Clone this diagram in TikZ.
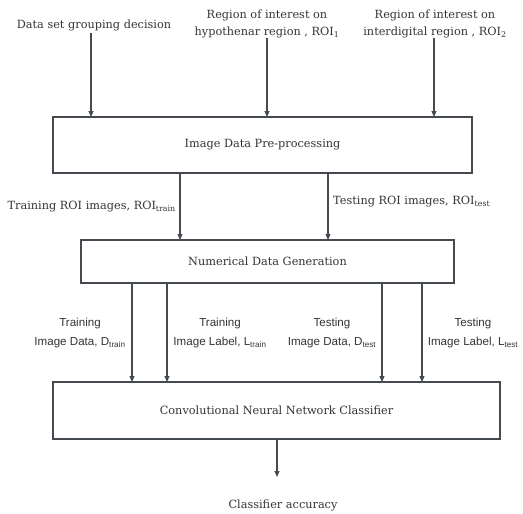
\documentclass[tikz,border=0pt]{standalone}
\usepackage{fontspec}
\setmainfont{DejaVu Serif}
\newfontfamily\labfont{Liberation Sans}
\usetikzlibrary{arrows.meta}
\definecolor{ln}{HTML}{454A50}
\definecolor{tx}{HTML}{333333}
\newcommand{\lowsub}[1]{\textsubscript{#1}}
\begin{document}
\begin{tikzpicture}[x=1pt,y=-1pt,
  procbox/.style={draw=ln,line width=1.3pt,fill=white},
  flow/.style={draw=ln,line width=1.1pt,-{Triangle[length=6pt,width=5pt]}},
  serift/.style={font=\fontsize{11.3}{17}\selectfont,text=tx,align=center,inner sep=0pt},
  sanst/.style={font=\labfont\fontsize{11.6}{18.5}\selectfont,text=tx,align=center,inner sep=0pt}]
\useasboundingbox (0,0) rectangle (523,514);
% boxes
\draw[procbox] (53,117) rectangle (472,173);
\node[serift] (b1) at (262.5,145) {Image Data Pre-processing};
\draw[procbox] (81,240) rectangle (454,283);
\node[serift] (b2) at (267.5,261.5) {Numerical Data Generation};
\draw[procbox] (53,382) rectangle (500,439);
\node[serift] (b3) at (276.5,410.5) {Convolutional Neural Network Classifier};
% top inputs
\node[serift] (in1) at (94,25) {Data set grouping decision};
\node[serift] (in2) at (267,24) {Region of interest on\\hypothenar region , ROI\lowsub{1}};
\node[serift] (in3) at (435,24) {Region of interest on\\interdigital region , ROI\lowsub{2}};
\coordinate (a1s) at (91,33); \coordinate (a1e) at (91,117);
\coordinate (a2s) at (267,38); \coordinate (a2e) at (267,117);
\coordinate (a3s) at (434,38); \coordinate (a3e) at (434,117);
\draw[flow] (a1s) -- (a1e);
\draw[flow] (a2s) -- (a2e);
\draw[flow] (a3s) -- (a3e);
% box1 -> box2
\coordinate (c1s) at (180,173); \coordinate (c1e) at (180,240);
\coordinate (c2s) at (328,173); \coordinate (c2e) at (328,240);
\draw[flow] (c1s) -- (c1e);
\draw[flow] (c2s) -- (c2e);
\node[serift,anchor=east] (l1) at (176,207) {Training ROI images, ROI\lowsub{train}};
\node[serift,anchor=west] (l2) at (333,202) {Testing ROI images, ROI\lowsub{test}};
% box2 -> box3
\coordinate (d1s) at (132,283); \coordinate (d1e) at (132,382);
\coordinate (d2s) at (167,283); \coordinate (d2e) at (167,382);
\coordinate (d3s) at (382,283); \coordinate (d3e) at (382,382);
\coordinate (d4s) at (422,283); \coordinate (d4e) at (422,382);
\draw[flow] (d1s) -- (d1e);
\draw[flow] (d2s) -- (d2e);
\draw[flow] (d3s) -- (d3e);
\draw[flow] (d4s) -- (d4e);
\node[sanst] (m1) at (80,333) {Training\\Image Data, D\lowsub{train}};
\node[sanst] (m2) at (220,333) {Training\\Image Label, L\lowsub{train}};
\node[sanst] (m3) at (332,333) {Testing\\Image Data, D\lowsub{test}};
\node[sanst] (m4) at (473,333) {Testing\\Image Label, L\lowsub{test}};
% output
\coordinate (os) at (277,439); \coordinate (oe) at (277,477);
\draw[flow] (os) -- (oe);
\node[serift] (out) at (283,505) {Classifier accuracy};
\end{tikzpicture}
\end{document}
